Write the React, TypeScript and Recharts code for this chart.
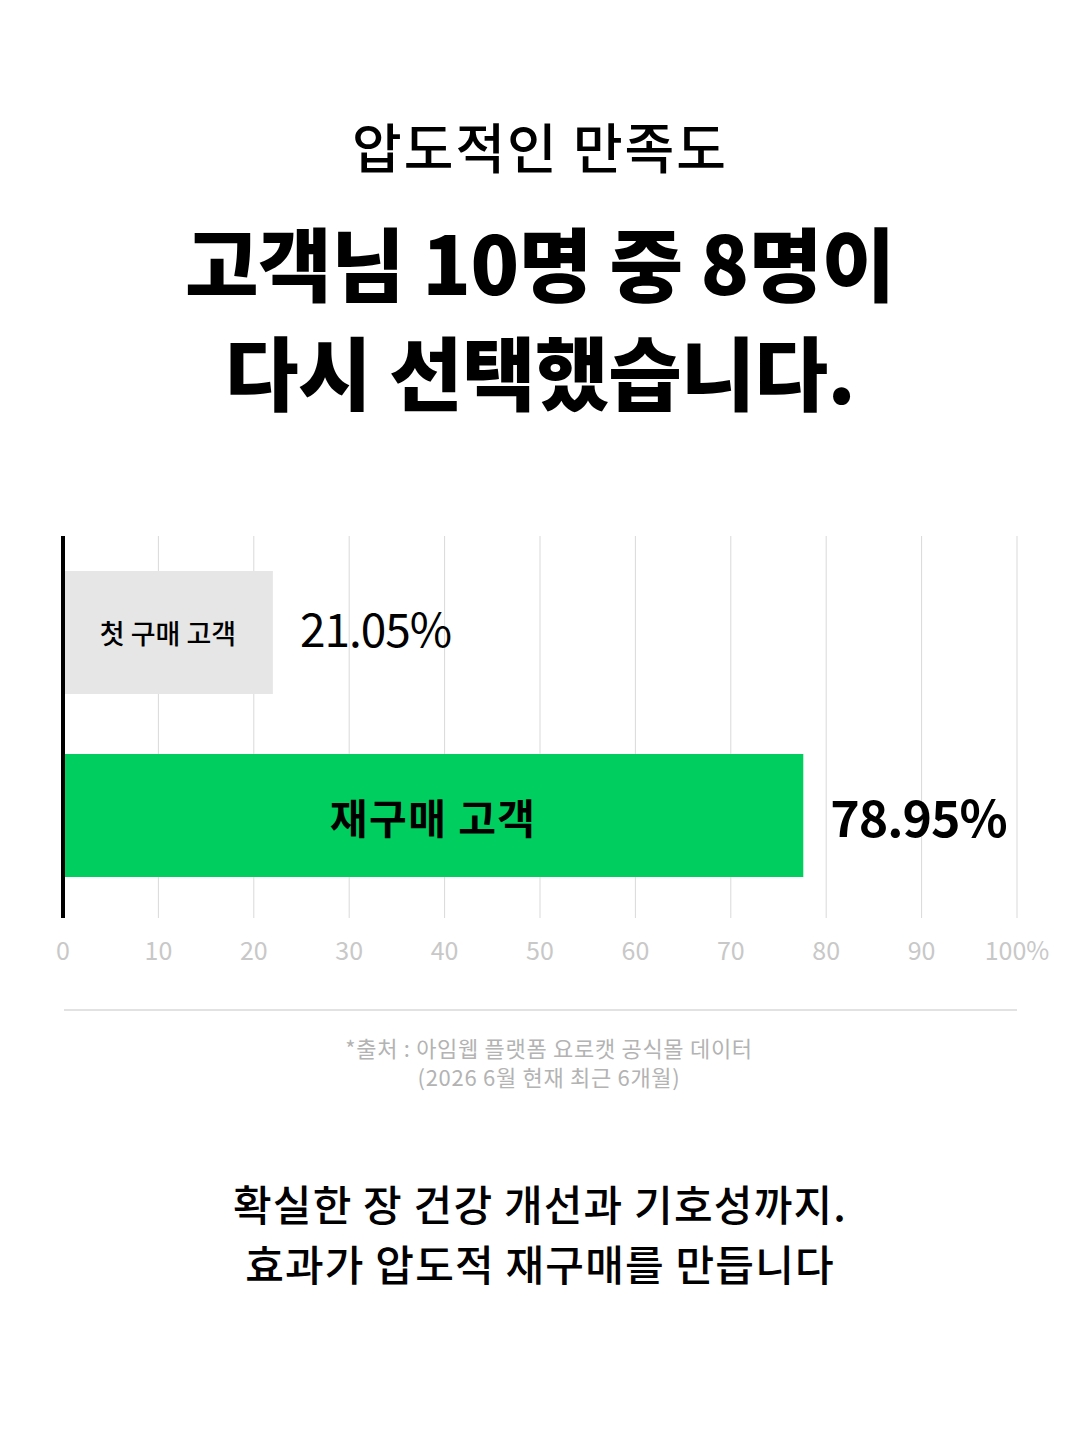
import React from 'react';
import { BarChart, Bar, XAxis, YAxis, CartesianGrid, LabelList, Cell, ReferenceLine } from 'recharts';

const categories = ['첫 구매 고객', '재구매 고객'];
const barValues = [22, 77.6];
const valueLabels = ['21.05%', '78.95%'];
const barColors = ['#e6e6e6', '#00cf5f'];
const xTicks = [0, 10, 20, 30, 40, 50, 60, 70, 80, 90, 100];

const data = categories.map((name, i) => ({ name, value: barValues[i], label: valueLabels[i] }));

const FONT = '"Noto Sans CJK KR", "Noto Sans", sans-serif';

const InsideLabel = (props: any) => {
  const { x, y, width, height, index, value } = props;
  const big = index === 1;
  return (
    <text
      x={Number(x) + Number(width) / 2}
      y={Number(y) + Number(height) / 2}
      textAnchor="middle"
      dominantBaseline="central"
      fontFamily={FONT}
      fontSize={big ? 41 : 27}
      fontWeight={big ? 700 : 500}
      letterSpacing={big ? 1.5 : 0}
      fill="#000"
    >
      {value}
    </text>
  );
};

const RightLabel = (props: any) => {
  const { x, y, width, height, index, value } = props;
  const big = index === 1;
  return (
    <text
      x={Number(x) + Number(width) + 27}
      y={Number(y) + Number(height) / 2 + (big ? -1 : -6)}
      textAnchor="start"
      dominantBaseline="central"
      fontFamily={FONT}
      fontSize={big ? 50 : 46}
      fontWeight={big ? 700 : 400}
      letterSpacing={-1}
      fill="#000"
    >
      {value}
    </text>
  );
};

const center: React.CSSProperties = {
  position: 'absolute',
  left: 0,
  width: 1080,
  textAlign: 'center',
  fontFamily: FONT,
  color: '#000',
  margin: 0,
  whiteSpace: 'nowrap',
};

export default function App() {
  return (
    <div style={{ position: 'absolute', left: 0, top: 0, width: 1080, height: 1444, background: '#fff', overflow: 'hidden' }}>
      <div style={{ ...center, top: 108, fontSize: 54, fontWeight: 500, lineHeight: '76px', letterSpacing: 2 }}>압도적인 만족도</div>
      <div style={{ ...center, top: 206, fontSize: 80, fontWeight: 900, lineHeight: '109px', letterSpacing: -0.5 }}>
        고객님 10명 중 8명이
        <br />
        다시 선택했습니다.
      </div>

      <div style={{ position: 'absolute', left: 0, top: 520 }}>
        <BarChart
          width={1080}
          height={458}
          data={data}
          layout="vertical"
          margin={{ top: 16, right: 63, left: 63, bottom: 0 }}
          barSize={123}
        >
          <CartesianGrid horizontal={false} stroke="#d9d9d9" strokeWidth={1} />
          <XAxis
            type="number"
            domain={[0, 100]}
            ticks={xTicks}
            interval={0}
            axisLine={false}
            tickLine={false}
            tickMargin={18}
            height={60}
            tickFormatter={(v: number) => (v === 100 ? '100%' : String(v))}
            tick={{ fill: '#c8c8c8', fontSize: 25, fontFamily: FONT }}
          />
          <YAxis
            type="category"
            dataKey="name"
            width={0}
            tick={false}
            tickLine={false}
            axisLine={false}
            padding={{ top: 5, bottom: 11 }}
          />
          <Bar dataKey="value" isAnimationActive={false}>
            {data.map((d, i) => (
              <Cell key={d.name} fill={barColors[i]} />
            ))}
            <LabelList dataKey="name" content={InsideLabel} />
            <LabelList dataKey="label" content={RightLabel} />
          </Bar>
          <ReferenceLine x={0} stroke="#000" strokeWidth={4} />
        </BarChart>
      </div>

      <div style={{ position: 'absolute', left: 64, top: 1009, width: 953, height: 2, background: '#e2e2e2' }} />

      <div style={{ ...center, left: 9, top: 1033, fontSize: 22, fontWeight: 400, lineHeight: '29px', color: '#b3b3b3', letterSpacing: 0.7 }}>
        *출처 : 아임웹 플랫폼 요로캣 공식몰 데이터
        <br />
        (2026 6월 현재 최근 6개월)
      </div>

      <div style={{ ...center, top: 1173, fontSize: 42, fontWeight: 500, lineHeight: '60px', letterSpacing: 1.2 }}>
        확실한 장 건강 개선과 기호성까지.
        <br />
        효과가 압도적 재구매를 만듭니다
      </div>
    </div>
  );
}
